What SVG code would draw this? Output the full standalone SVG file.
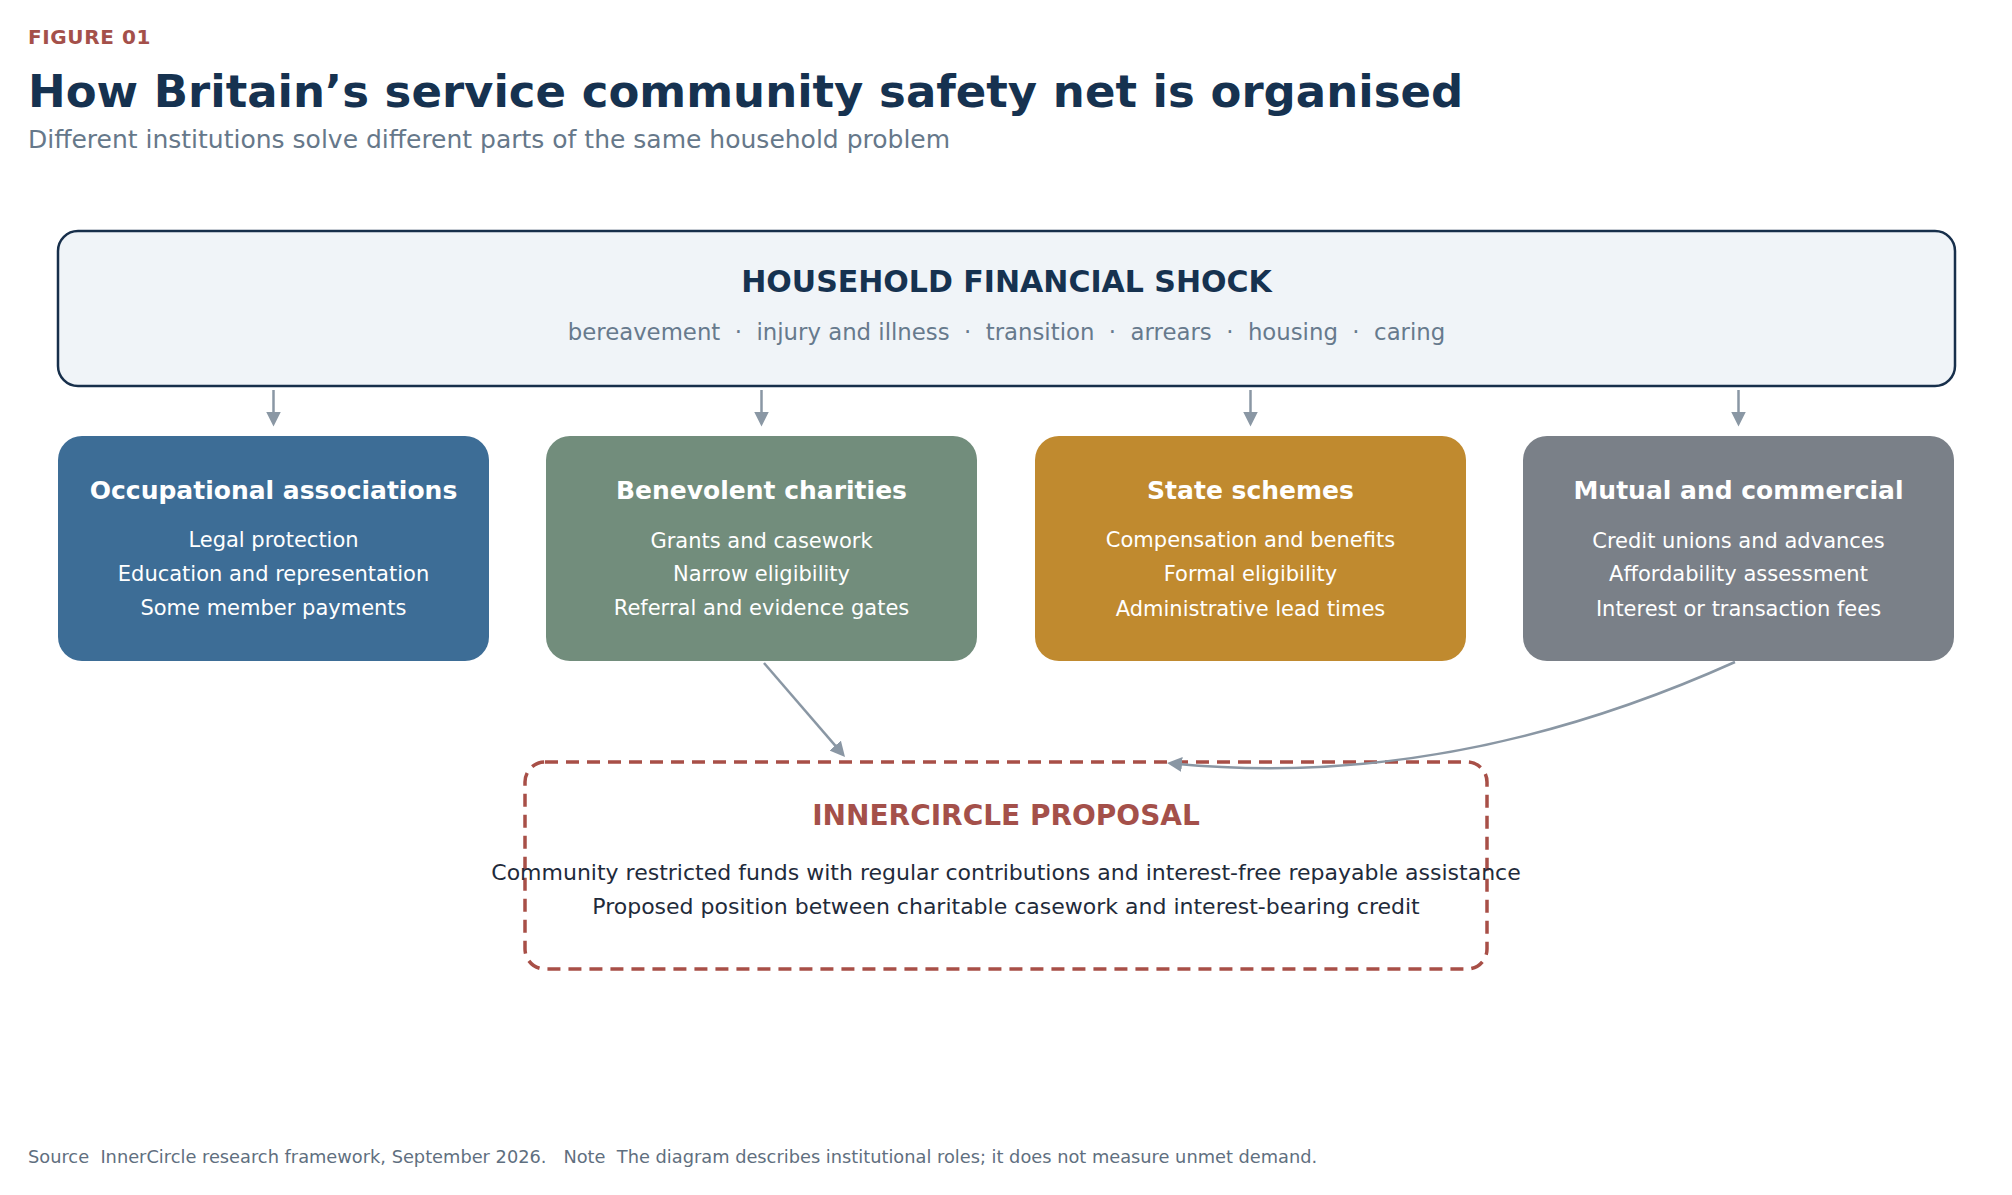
<svg xmlns="http://www.w3.org/2000/svg" width="2012" height="1195" viewBox="0 0 2012 1195">
  <style>
    text { font-family: "DejaVu Sans", "Liberation Sans", sans-serif; }
    .kicker { font-size: 20px; font-weight: bold; fill: #a4504a; letter-spacing: 0.6px; }
    .title { font-size: 45px; font-weight: bold; fill: #163250; }
    .subtitle { font-size: 25px; fill: #66788a; }
    .shock-title { font-size: 30px; font-weight: bold; fill: #163250; text-anchor: middle; }
    .shock-sub { font-size: 22.8px; fill: #677a8d; text-anchor: middle; white-space: pre; }
    .box { stroke: none; }
    .box-title { font-size: 25px; font-weight: bold; fill: #ffffff; text-anchor: middle; }
    .box-line { font-size: 21px; fill: #ffffff; text-anchor: middle; }
    .prop-title { font-size: 28px; font-weight: bold; fill: #a4504a; text-anchor: middle; }
    .prop-line { font-size: 22px; fill: #1f2b3b; text-anchor: middle; }
    .footer { font-size: 17.8px; fill: #5f6f80; white-space: pre; }
    .conn { fill: none; stroke: #8a97a4; stroke-width: 2.5; }
  </style>
  <defs>
    <marker id="arrow" viewBox="0 0 15 15" refX="7" refY="7.5" markerWidth="15" markerHeight="15" markerUnits="userSpaceOnUse" orient="auto">
      <path d="M0,0 L15,7.5 L0,15 Z" fill="#8a97a4"/>
    </marker>
  </defs>

  <rect width="2012" height="1195" fill="#ffffff"/>

  <g id="header">
    <text class="kicker" x="28" y="44">FIGURE 01</text>
    <text class="title" x="28" y="107">How Britain’s service community safety net is organised</text>
    <text class="subtitle" x="28" y="148">Different institutions solve different parts of the same household problem</text>
  </g>

  <g id="shock">
    <rect x="58" y="231" width="1897" height="155" rx="20" ry="20" fill="#f0f4f8" stroke="#172f4b" stroke-width="2.5"/>
    <text class="shock-title" x="1006.5" y="291.5">HOUSEHOLD FINANCIAL SHOCK</text>
    <text class="shock-sub" x="1006.5" y="340" xml:space="preserve">bereavement  ·  injury and illness  ·  transition  ·  arrears  ·  housing  ·  caring</text>
  </g>

  <g id="occupational">
    <rect class="box" x="58" y="436" width="431" height="225" rx="24" ry="24" fill="#3d6d96"/>
    <text class="box-title" x="273.5" y="499">Occupational associations</text>
    <text class="box-line" x="273.5" y="547">Legal protection</text>
    <text class="box-line" x="273.5" y="581">Education and representation</text>
    <text class="box-line" x="273.5" y="615">Some member payments</text>
  </g>

  <g id="benevolent">
    <rect class="box" x="546" y="436" width="431" height="225" rx="24" ry="24" fill="#728d7c"/>
    <text class="box-title" x="761.5" y="499">Benevolent charities</text>
    <text class="box-line" x="761.5" y="548">Grants and casework</text>
    <text class="box-line" x="761.5" y="581">Narrow eligibility</text>
    <text class="box-line" x="761.5" y="615">Referral and evidence gates</text>
  </g>

  <g id="state">
    <rect class="box" x="1035" y="436" width="431" height="225" rx="24" ry="24" fill="#c08a2f"/>
    <text class="box-title" x="1250.5" y="499">State schemes</text>
    <text class="box-line" x="1250.5" y="547">Compensation and benefits</text>
    <text class="box-line" x="1250.5" y="581">Formal eligibility</text>
    <text class="box-line" x="1250.5" y="616">Administrative lead times</text>
  </g>

  <g id="mutual">
    <rect class="box" x="1523" y="436" width="431" height="225" rx="24" ry="24" fill="#7a8088"/>
    <text class="box-title" x="1738.5" y="499">Mutual and commercial</text>
    <text class="box-line" x="1738.5" y="548">Credit unions and advances</text>
    <text class="box-line" x="1738.5" y="581">Affordability assessment</text>
    <text class="box-line" x="1738.5" y="616">Interest or transaction fees</text>
  </g>

  <g id="proposal">
    <rect x="525" y="762" width="962" height="207" rx="20" ry="20" fill="none" stroke="#a84f47" stroke-width="3.5" stroke-dasharray="13 8"/>
    <text class="prop-title" x="1006" y="825">INNERCIRCLE PROPOSAL</text>
    <text class="prop-line" x="1006" y="879.5">Community restricted funds with regular contributions and interest-free repayable assistance</text>
    <text class="prop-line" x="1006" y="913.5">Proposed position between charitable casework and interest-bearing credit</text>
  </g>

  <g id="connectors">
    <path class="conn" d="M273.5,390 L273.5,418.5" marker-end="url(#arrow)"/>
    <path class="conn" d="M761.5,390 L761.5,418.5" marker-end="url(#arrow)"/>
    <path class="conn" d="M1250.5,390 L1250.5,418.5" marker-end="url(#arrow)"/>
    <path class="conn" d="M1738.5,390 L1738.5,418.5" marker-end="url(#arrow)"/>
    <path class="conn" d="M764,663 L839.8,750.9" marker-end="url(#arrow)"/>
    <path class="conn" d="M1735,662 Q1450,790 1175,763.8" marker-end="url(#arrow)"/>
  </g>

  <g id="footer">
    <text class="footer" x="28" y="1162.5" xml:space="preserve">Source  InnerCircle research framework, September 2026.   Note  The diagram describes institutional roles; it does not measure unmet demand.</text>
  </g>
</svg>
